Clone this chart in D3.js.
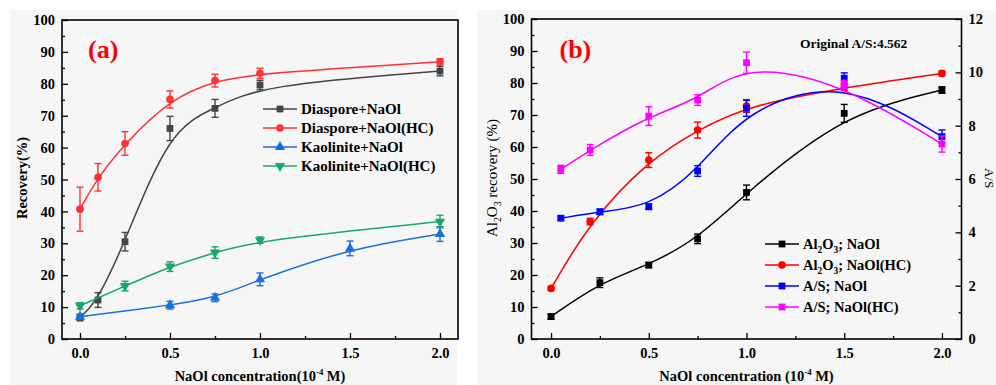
<!DOCTYPE html>
<html>
<head>
<meta charset="utf-8">
<script src="https://cdn.jsdelivr.net/npm/d3@7"></script>
<style>
  body { margin: 0; background: #fff; }
  svg { display: block; font-family: "Liberation Serif", "Times New Roman", serif; }
</style>
</head>
<body>
<svg id="chart" width="996" height="385" font-family="Liberation Serif, serif"></svg>
<script>
// ---- panel (a) data ----
var diasporeX = [0, 0.1, 0.25, 0.5, 0.75, 1, 2];
var diasporeNaOl = [6.7, 12.2, 30.5, 66, 72.3, 79.6, 84];
var diasporeNaOlErr = [1, 2.3, 2.9, 3.8, 2.8, 1.5, 1.5];
var diasporeHC = [40.7, 50.7, 61.3, 75.1, 81, 83.3, 86.9];
var diasporeHCErr = [6.9, 4.3, 3.7, 2.7, 2, 1.6, 1];
var kaoliniteX = [0, 0.5, 0.75, 1, 1.5, 2];
var kaoliniteNaOl = [7, 10.6, 12.9, 18.7, 28.4, 32.9];
var kaoliniteNaOlErr = [0.8, 1.2, 1.2, 2, 2.3, 2.3];
var kaoliniteHCX = [0, 0.25, 0.5, 0.75, 1, 2];
var kaoliniteHC = [10.4, 16.6, 22.7, 27.1, 31, 36.8];
var kaoliniteHCErr = [1, 1.5, 1.5, 1.8, 1, 2];

// ---- panel (b) data ----
var al2o3X = [0, 0.25, 0.5, 0.75, 1, 1.5, 2];
var al2o3NaOl = [7, 17.6, 23.1, 31.3, 45.8, 70.5, 77.8];
var al2o3NaOlErr = [0.8, 1.5, 0.8, 1.5, 2.3, 2.8, 1];
var al2o3HCX = [0, 0.2, 0.5, 0.75, 1, 1.5, 2];
var al2o3HC = [15.8, 36.7, 55.9, 65.3, 72.8, 78.6, 83];
var al2o3HCErr = [0.5, 1, 2.3, 2.5, 2, 1, 0.7];
var asNaOlX = [0.05, 0.25, 0.5, 0.75, 1, 1.5, 2];
var asNaOl = [4.53, 4.77, 4.96, 6.3, 8.65, 9.78, 7.59];
var asNaOlErr = [0.08, 0.1, 0.1, 0.2, 0.3, 0.2, 0.25];
var asHCX = [0.05, 0.2, 0.5, 0.75, 1, 1.5, 2];
var asHC = [6.36, 7.09, 8.36, 8.96, 10.36, 9.55, 7.31];
var asHCErr = [0.15, 0.2, 0.35, 0.2, 0.4, 0.15, 0.3];

var xTicks = [0, 0.5, 1, 1.5, 2];
var xMinor = [0.25, 0.75, 1.25, 1.75];
var yTicks = d3.range(0, 101, 10);
var yMinor = d3.range(5, 100, 10);
var rightTicks = d3.range(0, 13, 2);
var rightMinor = d3.range(1, 12, 2);

var svg = d3.select('#chart');
var serif = '"Liberation Serif", "Times New Roman", serif';

// light gray panel backgrounds
svg.append('rect').attr('x', 10).attr('y', 10).attr('width', 447).attr('height', 375).attr('fill', '#f6f6f6');
svg.append('rect').attr('x', 477).attr('y', 10).attr('width', 519).attr('height', 375).attr('fill', '#f6f6f6');

var symbols = {
    square: d3.symbol().type(d3.symbolSquare).size(46),
    circle: d3.symbol().type(d3.symbolCircle).size(46),
    up: d3.symbol().type(d3.symbolTriangle).size(46),
    down: d3.symbol().type(d3.symbolTriangle).size(46)
};

// parts: [text, 'sub'|'sup'|undefined]; shifts are done with dy on each tspan
function richText(t, parts, fontSize) {
    var cur = 0;
    parts.forEach(function(p) {
        var target = 0, size = fontSize;
        if (p[1] === 'sub') { target = fontSize * 0.25; size = fontSize * 0.65; }
        if (p[1] === 'sup') { target = -fontSize * 0.4; size = fontSize * 0.6; }
        t.append('tspan').attr('dy', target - cur).attr('font-size', size).text(p[0]);
        cur = target;
    });
    return t;
}

function drawPanel(cfg) {
    var g = svg.append('g').attr('font-family', serif);
    var x = d3.scaleLinear().domain([-0.1, 2.1]).range([cfg.left, cfg.right]);
    var y = d3.scaleLinear().domain([0, 100]).range([cfg.bottom, cfg.top]);

    // axes with inward ticks
    var bottom = g.append('g').attr('transform', 'translate(0,' + cfg.bottom + ')');
    bottom.call(d3.axisBottom(x).tickValues(xTicks).tickSize(-6).tickPadding(9).tickFormat(d3.format('.1f')));
    bottom.append('g').call(d3.axisBottom(x).tickValues(xMinor).tickSize(-3).tickFormat(''));

    var left = g.append('g').attr('transform', 'translate(' + cfg.left + ',0)');
    left.call(d3.axisLeft(y).tickValues(yTicks).tickSize(-6).tickPadding(7));
    left.append('g').call(d3.axisLeft(y).tickValues(yMinor).tickSize(-3).tickFormat(''));

    var yr = null;
    if (cfg.rightAxis) {
        yr = d3.scaleLinear().domain([0, 12]).range([cfg.bottom, cfg.top]);
        var right = g.append('g').attr('transform', 'translate(' + cfg.right + ',0)');
        right.call(d3.axisRight(yr).tickValues(rightTicks).tickSize(-6).tickPadding(7));
        right.append('g').call(d3.axisRight(yr).tickValues(rightMinor).tickSize(-3).tickFormat(''));
    }

    g.selectAll('.domain').remove();
    g.selectAll('.tick line').attr('stroke', '#000').attr('stroke-width', 1.3);
    g.selectAll('.tick text').filter(function() { return this.textContent !== ''; })
        .attr('font-family', serif)
        .attr('font-size', 14.5).attr('font-weight', 'bold').attr('fill', '#000');
    g.selectAll('.tick text').filter(function() { return this.textContent === ''; }).remove();
    g.selectAll('[font-family="sans-serif"]').attr('font-family', serif);

    g.append('rect').attr('x', cfg.left).attr('y', cfg.top)
        .attr('width', cfg.right - cfg.left).attr('height', cfg.bottom - cfg.top)
        .attr('fill', 'none').attr('stroke', '#000').attr('stroke-width', 1.6);

    var line = d3.line().curve(d3.curveBasis)
        .x(function(d) { return x(d[0]); });

    cfg.series.forEach(function(s) {
        var ys = s.axis === 'right' ? yr : y;
        var pts = d3.zip(s.x, s.y, s.err);
        var sg = g.append('g');
        sg.append('path').datum(pts)
            .attr('d', line.y(function(d) { return ys(d[1]); }))
            .attr('fill', 'none').attr('stroke', s.color).attr('stroke-width', 1.5);

        var eb = sg.selectAll('.eb').data(pts).enter().append('g')
            .attr('stroke', s.color).attr('stroke-width', 1.4);
        eb.append('line')
            .attr('x1', function(d) { return x(d[0]); }).attr('x2', function(d) { return x(d[0]); })
            .attr('y1', function(d) { return ys(d[1] + d[2]); }).attr('y2', function(d) { return ys(d[1] - d[2]); });
        eb.append('line')
            .attr('x1', function(d) { return x(d[0]) - 3.5; }).attr('x2', function(d) { return x(d[0]) + 3.5; })
            .attr('y1', function(d) { return ys(d[1] + d[2]); }).attr('y2', function(d) { return ys(d[1] + d[2]); });
        eb.append('line')
            .attr('x1', function(d) { return x(d[0]) - 3.5; }).attr('x2', function(d) { return x(d[0]) + 3.5; })
            .attr('y1', function(d) { return ys(d[1] - d[2]); }).attr('y2', function(d) { return ys(d[1] - d[2]); });

        sg.selectAll('.mk').data(pts).enter().append('path')
            .attr('d', symbols[s.marker]())
            .attr('transform', function(d) {
                return 'translate(' + x(d[0]) + ',' + ys(d[1]) + ')' + (s.marker === 'down' ? ' rotate(180)' : '');
            })
            .attr('fill', s.color);
    });

    // legend
    cfg.series.forEach(function(s, i) {
        var ly = cfg.legend.y + i * cfg.legend.step;
        var lg = g.append('g');
        lg.append('line').attr('x1', cfg.legend.x).attr('x2', cfg.legend.x + 34)
            .attr('y1', ly).attr('y2', ly).attr('stroke', s.color).attr('stroke-width', 1.5);
        lg.append('path').attr('d', symbols[s.marker]())
            .attr('transform', 'translate(' + (cfg.legend.x + 17) + ',' + ly + ')' + (s.marker === 'down' ? ' rotate(180)' : ''))
            .attr('fill', s.color);
        var t = lg.append('text').attr('x', cfg.legend.x + 38).attr('y', ly + 5)
            .attr('font-size', cfg.legend.size).attr('font-weight', 'bold').attr('fill', '#000');
        richText(t, s.label, cfg.legend.size);
    });

    // panel letter
    g.append('text').attr('x', cfg.left + cfg.letterDx).attr('y', 58)
        .attr('font-size', 26).attr('font-weight', 'bold').attr('fill', '#ff0000')
        .text(cfg.letter);

    // x axis title, near the very bottom edge as in the source figure
    var xt = g.append('text').attr('x', (cfg.left + cfg.right) / 2).attr('y', 381)
        .attr('text-anchor', 'middle').attr('font-size', 14.5).attr('font-weight', 'bold');
    richText(xt, cfg.xTitle, 14.5);

    // y axis title
    var yt = g.append('text')
        .attr('transform', 'translate(' + cfg.yTitleX + ',178) rotate(-90)')
        .attr('text-anchor', 'middle').attr('font-size', cfg.yTitleSize)
        .attr('font-weight', cfg.yTitleWeight);
    richText(yt, cfg.yTitle, cfg.yTitleSize);
    return g;
}

drawPanel({
    left: 62, right: 458, top: 20, bottom: 339,
    letter: '(a)', letterDx: 26,
    xTitle: [['NaOl concentration(10'], ['-4', 'sup'], [' M)']],
    yTitle: [['Recovery(%)']], yTitleX: 27, yTitleSize: 14.5, yTitleWeight: 'bold',
    legend: { x: 263, y: 109, step: 19, size: 15 },
    series: [
        { x: diasporeX, y: diasporeNaOl, err: diasporeNaOlErr, color: '#444444', marker: 'square', label: [['Diaspore+NaOl']] },
        { x: diasporeX, y: diasporeHC, err: diasporeHCErr, color: '#ff3333', marker: 'circle', label: [['Diaspore+NaOl(HC)']] },
        { x: kaoliniteX, y: kaoliniteNaOl, err: kaoliniteNaOlErr, color: '#1a6fe0', marker: 'up', label: [['Kaolinite+NaOl']] },
        { x: kaoliniteHCX, y: kaoliniteHC, err: kaoliniteHCErr, color: '#16a86a', marker: 'down', label: [['Kaolinite+NaOl(HC)']] }
    ]
});

var pb = drawPanel({
    left: 531.5, right: 961.5, top: 19, bottom: 339, rightAxis: true,
    letter: '(b)', letterDx: 28,
    xTitle: [['NaOl concentration (10'], ['-4', 'sup'], [' M)']],
    yTitle: [['Al'], ['2', 'sub'], ['O'], ['3', 'sub'], [' recovery (%)']], yTitleX: 497, yTitleSize: 15, yTitleWeight: 'normal',
    legend: { x: 765, y: 244, step: 21, size: 14.5 },
    series: [
        { x: al2o3X, y: al2o3NaOl, err: al2o3NaOlErr, color: '#000000', marker: 'square', label: [['Al'], ['2', 'sub'], ['O'], ['3', 'sub'], ['; NaOl']] },
        { x: al2o3HCX, y: al2o3HC, err: al2o3HCErr, color: '#ff0000', marker: 'circle', label: [['Al'], ['2', 'sub'], ['O'], ['3', 'sub'], ['; NaOl(HC)']] },
        { x: asNaOlX, y: asNaOl, err: asNaOlErr, color: '#0000ff', marker: 'square', axis: 'right', label: [['A/S; NaOl']] },
        { x: asHCX, y: asHC, err: asHCErr, color: '#ff00ff', marker: 'square', axis: 'right', label: [['A/S; NaOl(HC)']] }
    ]
});

pb.append('text').attr('x', 800).attr('y', 48).attr('font-size', 13.5).attr('font-weight', 'bold')
    .text('Original A/S:4.562');

// right axis title, squeezed against the right edge
pb.append('text').attr('transform', 'translate(985,178) rotate(90)')
    .attr('text-anchor', 'middle').attr('font-size', 13).text('A/S');
</script>
</body>
</html>
